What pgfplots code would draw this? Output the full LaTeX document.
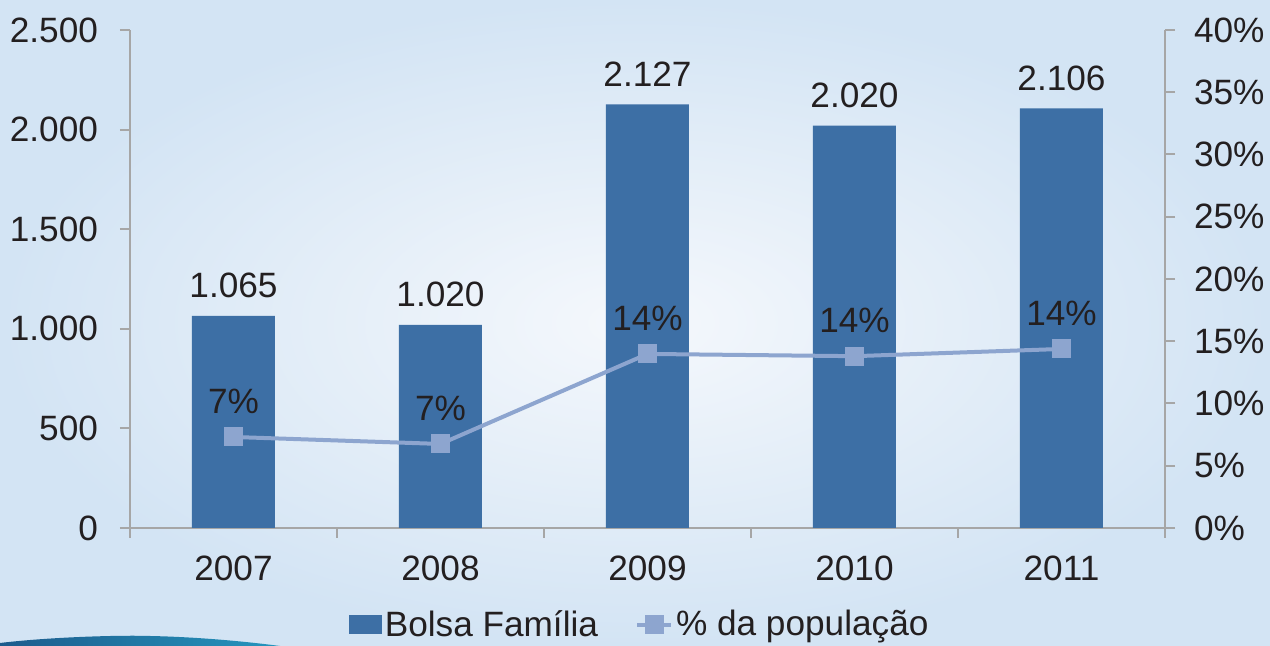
\documentclass[border=0pt]{standalone}
\usepackage{fontspec}
\setmainfont{Liberation Sans}
\usepackage{pgfplots}
\pgfplotsset{compat=1.18}
\definecolor{barblue}{HTML}{3D6FA5}
\definecolor{lineblue}{HTML}{8DA5CF}
\definecolor{axisgray}{HTML}{A6A6A6}
\definecolor{txt}{HTML}{231F20}
\definecolor{bgout}{HTML}{D3E4F4}
\definecolor{bgin}{HTML}{F5F8FC}
\definecolor{swA}{HTML}{1D5B8C}
\definecolor{swB}{HTML}{2596BE}
\newcommand{\lf}{\fontsize{17.6}{21}\selectfont}
\pgfplotsset{
  /pgf/number format/assume math mode=true,
  /pgf/number format/1000 sep={.},
  every axis/.append style={font=\lf, text=txt},
  base/.style={
    at={(65pt,59pt)}, anchor=south west,
    scale only axis, width=517.5pt, height=249pt,
    xmin=-0.5, xmax=4.5,
    tick align=outside,
    major tick length=5pt, minor tick length=5pt,
    axis line style={draw=axisgray, line width=1pt},
    every tick/.style={draw=axisgray, line width=1pt},
    ticklabel style={text=txt, font=\lf},
  }
}
\begin{document}
\begin{tikzpicture}
\shade[inner color=bgin, outer color=bgout] (0,0) rectangle (635pt,323pt);
\shade[left color=swA, right color=swB] (0pt,0pt) -- (0pt,1.5pt) .. controls (25pt,4.5pt) and (60pt,5.5pt) .. (75pt,5pt) .. controls (100pt,4.5pt) and (125pt,2pt) .. (140pt,0pt) -- cycle;
\begin{axis}[base,
  ymin=0, ymax=2500,
  axis x line*=bottom, axis y line*=left,
  xtick={-0.5,0.5,1.5,2.5,3.5,4.5}, xticklabels={},
  extra x ticks={0,1,2,3,4},
  extra x tick labels={2007,2008,2009,2010,2011},
  extra x tick style={major tick length=0pt, xticklabel style={yshift=-10.5pt}},
  ytick={0,500,1000,1500,2000,2500},
  yticklabel style={xshift=-7.5pt},
  ybar, bar width=41.5pt,
  nodes near coords={\pgfmathprintnumber[fixed,precision=0]{\pgfplotspointmeta}},
  every node near coord/.append style={font=\lf, text=txt, yshift=5.5pt},
]
\addplot[fill=barblue, draw=none] coordinates {(0,1065) (1,1020) (2,2127) (3,2020) (4,2106)};
\end{axis}
\begin{axis}[base,
  ymin=0, ymax=40,
  axis x line=none, axis y line*=right,
  ytick={0,5,10,15,20,25,30,35,40},
  yticklabel={\pgfmathprintnumber{\tick}\%},
  yticklabel style={xshift=6pt},
  legend style={at={(0.493,-0.194)}, anchor=center, draw=none, fill=none,
    legend columns=2, font=\lf, text=txt,
    nodes={inner sep=1.5pt},
    /tikz/every even column/.append style={column sep=17pt}},
]
\addlegendimage{legend image code/.code={\fill[barblue] (0pt,-4.5pt) rectangle (16pt,4.5pt);}}
\addlegendentry{Bolsa Família}
\addplot[lineblue, line width=2pt, mark=square*, mark size=3.75pt,
  mark options={fill=lineblue, draw=lineblue},
  legend image code/.code={\draw[mark repeat=2,mark phase=2] plot coordinates {(0pt,0pt) (8.5pt,0pt) (17pt,0pt)};},
  nodes near coords={\pgfmathprintnumber[fixed,precision=0]{\pgfplotspointmeta}\%},
  every node near coord/.append style={font=\lf, text=txt, anchor=south, yshift=7.5pt},
  point meta=y]
  coordinates {(0,7.31) (1,6.75) (2,13.98) (3,13.8) (4,14.38)};
\addlegendentry{\% da população}
\end{axis}
\pgfresetboundingbox
\path (0,0) rectangle (635pt,323pt);
\end{tikzpicture}
\end{document}
